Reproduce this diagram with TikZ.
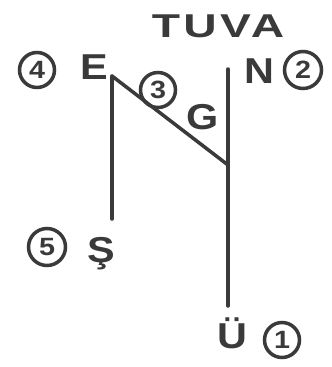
\documentclass[tikz,border=0pt]{standalone}
\usepackage{fontspec}
\setmainfont{Liberation Sans}
\newfontfamily\penFont[FakeStretch=1.15]{Liberation Sans}
\newfontfamily\wideFont[FakeStretch=1.4,LetterSpace=10]{Liberation Sans}
\definecolor{penGray}{RGB}{58,58,58}
\usetikzlibrary{positioning}

\begin{document}
\begin{tikzpicture}[x=1pt, y=-1pt,
    letter/.style={text=penGray, font=\penFont\bfseries\fontsize{36}{36}\selectfont, inner sep=0pt},
    num/.style={circle, draw=penGray, line width=3.5pt, text=penGray,
                font=\penFont\bfseries\fontsize{25}{25}\selectfont, minimum size=35pt, inner sep=0pt},
    stroke/.style={draw=penGray, line width=3.5pt, line cap=round}
  ]
  \useasboundingbox (0,0) rectangle (332,367);

  \node[text=penGray, inner sep=0pt, font=\wideFont\bfseries\fontsize{33}{33}\selectfont]
    (tuva) at (218,26) {TUVA};

  \node[num] (n4) at (37,70) {4};
  \node[letter] (e) at (94,67) {E};
  \node[letter] (n) at (259,71) {N};
  \node[num, minimum size=37pt] (n2) at (303,70) {2};
  \node[num] (n3) at (158,90) {3};
  \node[letter] (g) at (203,117) {G};
  \node[num, minimum size=37pt] (n5) at (47,247) {5};
  \node[letter] (s) at (101,254) {Ş};
  \node[letter] (u) at (232,333) {Ü};
  \node[num] (n1) at (282,340) {1};

  % strokes
  \coordinate (eFoot) at (112,76);
  \coordinate (sTop)  at (112,219);
  \coordinate (nTop)  at (228,69);
  \coordinate (bend)  at (228,165);
  \coordinate (uTop)  at (228,306);
  \draw[stroke] (eFoot) -- (sTop);
  \draw[stroke] (eFoot) -- (bend);
  \draw[stroke] (nTop) -- (uTop);
\end{tikzpicture}
\end{document}
